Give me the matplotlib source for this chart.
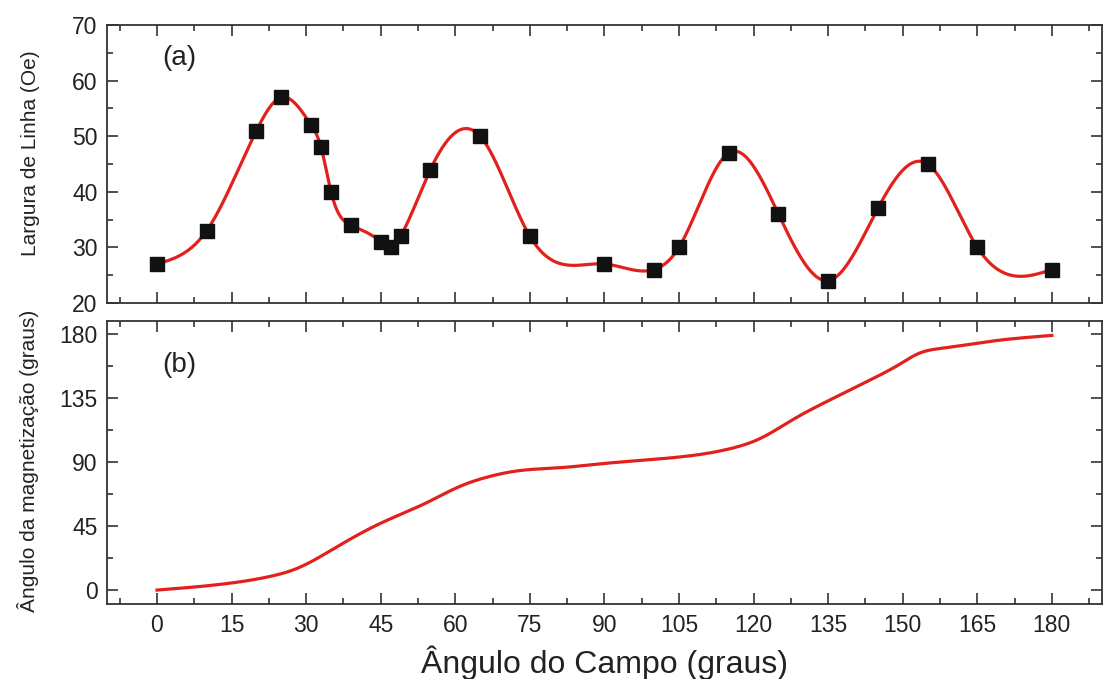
import numpy as np
import matplotlib
matplotlib.use('Agg')
import matplotlib.pyplot as plt
from matplotlib.ticker import MultipleLocator

# linewidth vs field angle (panel a)
ang_campo = [0, 10, 20, 25, 31, 33, 35, 39, 45, 47, 49, 55, 65, 75, 90, 100,
             105, 115, 125, 135, 145, 155, 165, 180]
largura = [27, 33, 51, 57, 52, 48, 40, 34, 31, 30, 32, 44, 50, 32, 27, 26,
           30, 47, 36, 24, 37, 45, 30, 26]

# magnetization angle vs field angle (panel b)
ang_campo_b = [0, 15, 23, 28, 36, 45, 54, 61, 66, 73, 81, 90, 105, 116, 121,
               128, 135, 142.5, 150, 153, 158, 168, 180]
ang_mag = [0, 5, 9.8, 15, 30, 47, 61, 73, 79, 84, 86, 89, 93.5, 100, 106,
           120, 133, 146, 160, 166, 170, 175, 179]

xticks = np.arange(0, 181, 15)


def spline(x, y, n=800):
    # natural cubic spline through the points
    x = np.asarray(x, float)
    y = np.asarray(y, float)
    h = np.diff(x)
    m = len(x)
    A = np.zeros((m, m))
    r = np.zeros(m)
    A[0, 0] = A[-1, -1] = 1
    for i in range(1, m - 1):
        A[i, i - 1] = h[i - 1]
        A[i, i] = 2 * (h[i - 1] + h[i])
        A[i, i + 1] = h[i]
        r[i] = 6 * ((y[i + 1] - y[i]) / h[i] - (y[i] - y[i - 1]) / h[i - 1])
    M = np.linalg.solve(A, r)
    xs = np.linspace(x[0], x[-1], n)
    k = np.clip(np.searchsorted(x, xs) - 1, 0, m - 2)
    t0 = x[k + 1] - xs
    t1 = xs - x[k]
    hk = h[k]
    ys = (M[k] * t0**3 + M[k + 1] * t1**3) / (6 * hk) \
        + (y[k] / hk - M[k] * hk / 6) * t0 + (y[k + 1] / hk - M[k + 1] * hk / 6) * t1
    return xs, ys


plt.rcParams['font.family'] = ['Liberation Sans', 'DejaVu Sans']
cor_txt = '#222222'
cor_eixo = '#333333'
vermelho = '#e3211c'

fig = plt.figure(figsize=(11.06, 6.79), dpi=100)
ax1 = fig.add_axes([0.097, 0.554, 0.899, 0.409])
ax2 = fig.add_axes([0.097, 0.110, 0.899, 0.417])

xs, ys = spline(ang_campo, largura)
ax1.plot(xs, ys, color=vermelho, lw=2.3, zorder=2)
ax1.plot(ang_campo, largura, 's', color='#111111', ms=9.5, zorder=3)

xs2, ys2 = spline(ang_campo_b, ang_mag)
ax2.plot(xs2, ys2, color=vermelho, lw=2.3)

ax1.set_xlim(-10, 190)
ax1.set_ylim(20, 70)
ax2.set_xlim(-10, 190)
ax2.set_ylim(-10, 189)

ax1.set_yticks(np.arange(20, 71, 10))
ax1.yaxis.set_minor_locator(MultipleLocator(5))
ax2.set_yticks(np.arange(0, 181, 45))
ax2.yaxis.set_minor_locator(MultipleLocator(22.5))

for ax in (ax1, ax2):
    ax.set_xticks(xticks)
    ax.xaxis.set_minor_locator(MultipleLocator(7.5))
    ax.tick_params(which='both', direction='in', top=True, right=True,
                   color=cor_eixo, width=1.2, labelsize=16.5, labelcolor=cor_txt)
    ax.tick_params(which='major', length=8, pad=7)
    ax.tick_params(which='minor', length=4)
    for s in ax.spines.values():
        s.set_color(cor_eixo)
        s.set_linewidth(1.3)

ax1.tick_params(axis='x', labelbottom=False)

ax1.set_ylabel('Largura de Linha (Oe)', fontsize=15, color=cor_txt)
ax1.yaxis.set_label_coords(-0.068, 0.54)
ax2.set_ylabel('Ângulo da magnetização (graus)', fontsize=15, color=cor_txt)
ax2.yaxis.set_label_coords(-0.069, 0.505)
ax2.set_xlabel('Ângulo do Campo (graus)', fontsize=23, color=cor_txt, labelpad=6)

ax1.text(1, 64, '(a)', fontsize=20, color=cor_txt, va='center')
ax2.text(1, 158, '(b)', fontsize=20, color=cor_txt, va='center')

fig.savefig('out.png', dpi=100)
